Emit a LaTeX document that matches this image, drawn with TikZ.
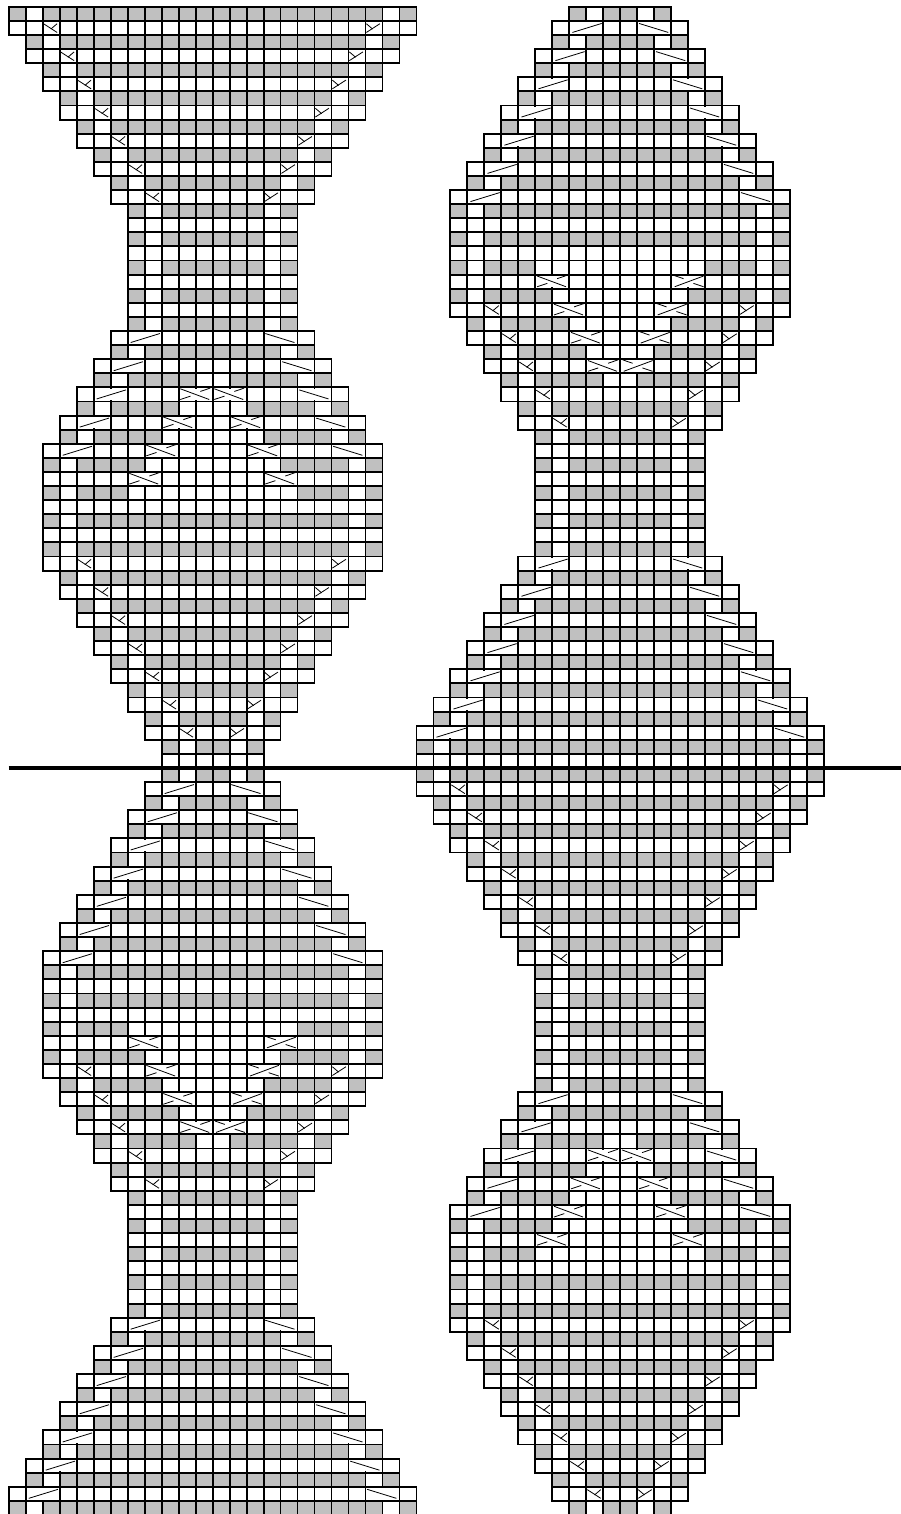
\documentclass[tikz,border=0pt]{standalone}
\definecolor{chartgray}{RGB}{192,192,192}
\newcommand{\rowwidths}{{12,12,11,11,10,10,9,9,8,8,7,7,6,6,
  5,5,5,5,5,5,5,5,5,6,6,7,7,8,8,9,9,
  10,10,10,10,10,10,10,10,10,9,9,8,8,7,7,6,6,5,5,4,4,3,3,3,
  4,4,5,5,6,6,7,7,8,8,9,9,
  10,10,10,10,10,10,10,10,10,9,9,8,8,7,7,6,6,
  5,5,5,5,5,5,5,5,5,6,6,7,7,8,8,9,9,10,10,11,11,12,12,12}}
\newcommand{\rowinners}{{0,0,0,0,0,0,0,0,0,0,0,0,0,0,0,0,0,0,0,0,0,0,0,0,0,0,
  1,2,2,3,3,4,4,5,5,
  0,0,0,0,0,0,0,0,0,0,0,0,0,0,0,0,0,0,0,0,0,0,0,0,0,0,0,0,0,0,0,0,0,0,0,0,0,
  5,5,4,4,3,3,2,2,1,
  0,0,0,0,0,0,0,0,0,0,0,0,0,0,0,0,0,0,0,0,0,0,0,0,0,0,0}}
\newcommand{\stitchslant}[3]{
  \begin{scope}[shift={(#1+1,#2)},xscale=#3]
    \fill[white] (-.09,.09) rectangle (.09,.91);
    \draw[stitchline] (-.82,.82) -- (.9,.18);
  \end{scope}}
\newcommand{\stitchcross}[3]{
  \begin{scope}[shift={(#1+1,#2)},xscale=#3]
    \fill[white] (-.09,.09) rectangle (.09,.91);
    \draw[stitchline] (-.9,.1) -- (.8,.86);
    \draw[stitchline] (-.9,.86) -- (-.3,.62);
    \draw[stitchline] (.28,.29) -- (.86,.05);
  \end{scope}}
\newcommand{\stitchdec}[3]{
  \begin{scope}[shift={(#1,#2)},xscale=#3]
    \draw[stitchline] (-.45,.2) -- (.35,.82);
    \draw[stitchline] (-.02,.58) -- (.35,.2);
  \end{scope}}

\begin{document}
\begin{tikzpicture}[x=16.99pt,y=-14.095pt,
    cellwhite/.style={draw=black,line width=1.9pt},
    cellgray/.style={draw=black,fill=chartgray,line width=1.9pt},
    stitchline/.style={draw=black,line width=.8pt}]
  \useasboundingbox (0pt,0pt) rectangle (901pt,-1514pt);
  \clip (0pt,0pt) rectangle (901pt,-1514pt);
  \begin{scope}[shift={(8.7pt,-6.8pt)}]
    \foreach \cx/\rowoff in {12/0,36/54}{
      \foreach \row in {0,...,106}{
        \pgfmathtruncatemacro{\per}{mod(\row+\rowoff,108)}
        \pgfmathtruncatemacro{\halfw}{\rowwidths[\per]}
        \pgfmathtruncatemacro{\halfin}{\rowinners[\per]}
        \pgfmathtruncatemacro{\firstc}{-\halfw}
        \pgfmathtruncatemacro{\lastc}{\halfw-1}
        \foreach \col in {\firstc,...,\lastc}{
          \pgfmathtruncatemacro{\isgray}{!isodd(\row) && \col!=1-\halfw && \col!=\halfw-2 && (\col<-\halfin || \col>=\halfin)}
          \ifnum\isgray=1
            \draw[cellgray] (\cx+\col,\row) rectangle +(1,1);
          \else
            \draw[cellwhite] (\cx+\col,\row) rectangle +(1,1);
          \fi
        }
        \ifodd\row
          \pgfmathtruncatemacro{\prevw}{\rowwidths[mod(\per+107,108)]}
          \pgfmathtruncatemacro{\nextw}{\rowwidths[mod(\per+1,108)]}
          \ifnum\halfw>\prevw
            \stitchslant{\cx+1-\halfw}{\row}{1}
            \stitchslant{\cx+\halfw-3}{\row}{-1}
          \fi
          \ifnum\nextw<\halfw
            \stitchdec{\cx+2.5-\halfw}{\row}{1}
            \stitchdec{\cx+\halfw-2.6}{\row}{-1}
          \fi
          \ifnum\halfin>0
            \stitchcross{\cx-\halfin}{\row}{1}
            \ifnum\per<54
              \stitchcross{\cx+\halfin-2}{\row}{1}
            \else
              \stitchcross{\cx+\halfin-2}{\row}{-1}
            \fi
          \fi
        \fi
      }
    }
    \draw[line width=3.2pt] (0,54) -- (53,54);
  \end{scope}
\end{tikzpicture}
\end{document}
